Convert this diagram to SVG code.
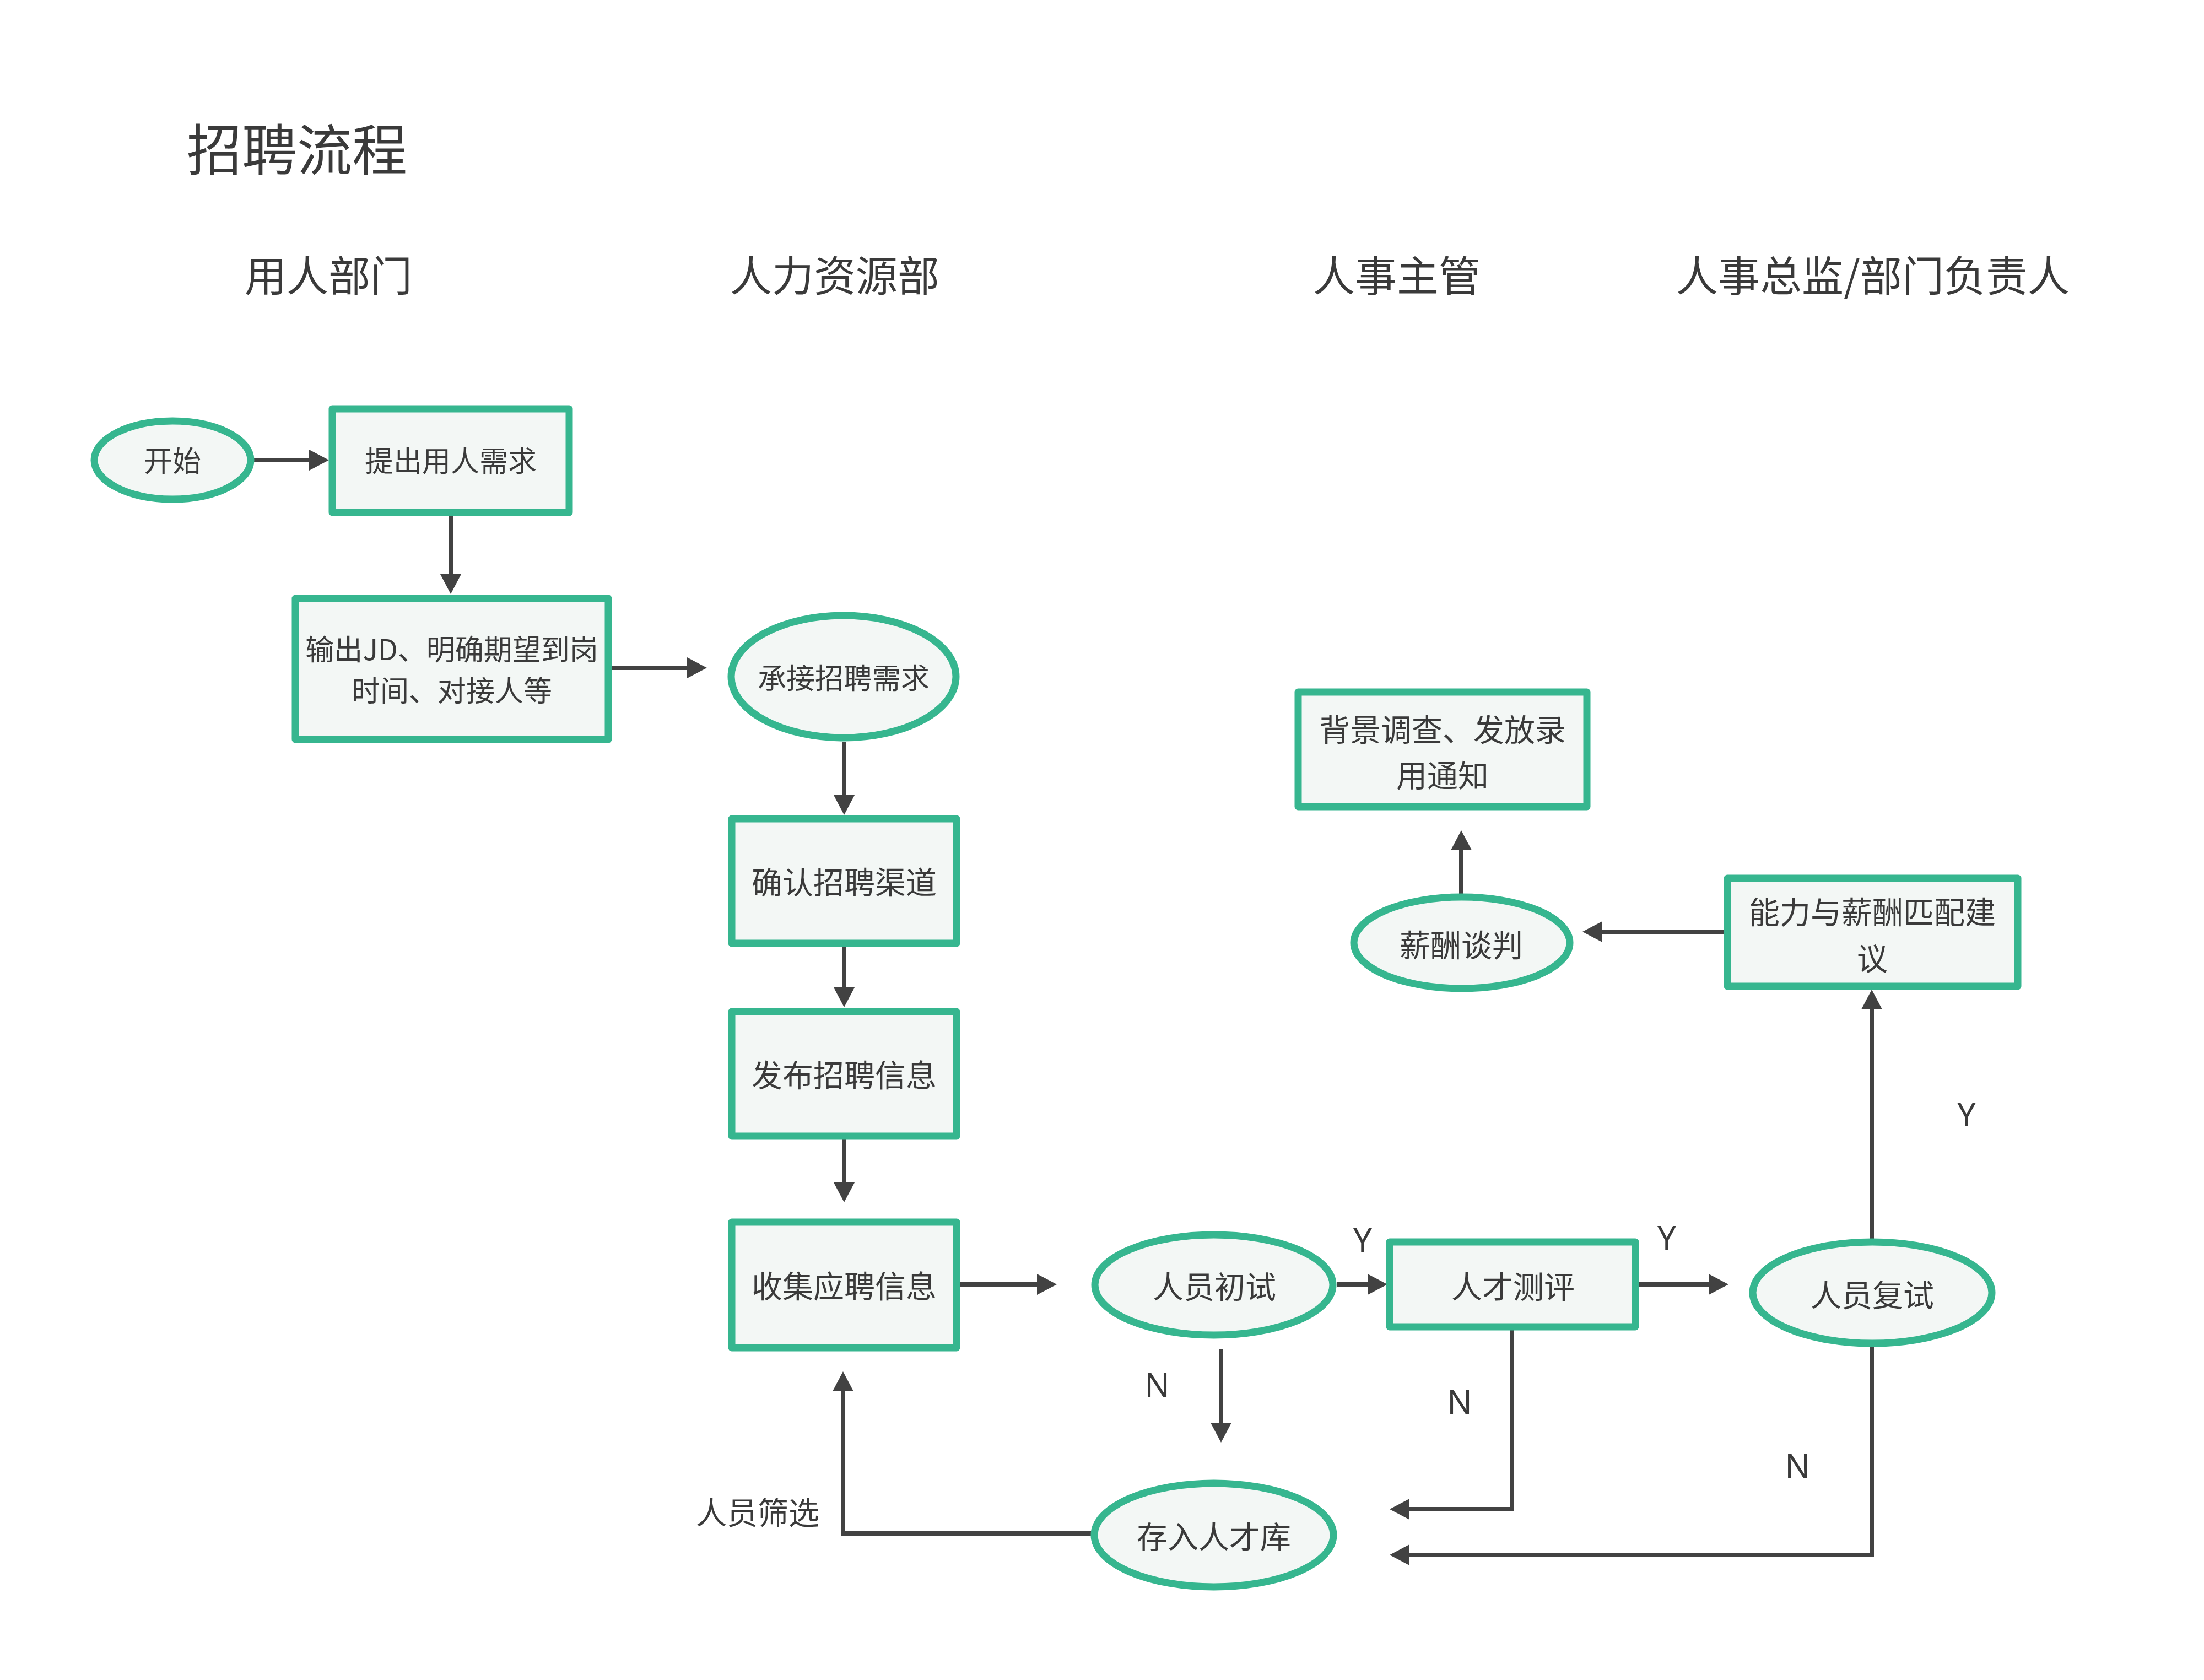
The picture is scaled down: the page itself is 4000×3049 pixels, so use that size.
<svg xmlns="http://www.w3.org/2000/svg" width="4000" height="3049" viewBox="0 0 4000 3049">
<defs>
<style>
.n{fill:#f3f7f5;stroke:#36b68f;stroke-width:13;stroke-linejoin:round}
.t{font-family:"Noto Sans CJK SC","Noto Sans",sans-serif;fill:#3a3a3a;text-anchor:middle}
.s52{font-size:52px}
.s56{font-size:56px}
.h{font-size:76px}
.lbl{font-family:"Noto Sans","Noto Sans CJK SC",sans-serif;font-size:60px;fill:#3a3a3a;text-anchor:middle}
.c{fill:none;stroke:#424242;stroke-width:8}
</style>
<marker id="arr" viewBox="0 0 36 38" markerWidth="36" markerHeight="38" refX="6" refY="19" orient="auto" markerUnits="userSpaceOnUse">
<path d="M0,0 L36,19 L0,38 Z" fill="#424242"/>
</marker>
</defs>
<rect width="4000" height="3049" fill="#ffffff"/>
<g id="titles">
<text class="t" x="339" y="309" style="font-size:100px;text-anchor:start">招聘流程</text>
<text class="t h" x="596" y="529">用人部门</text>
<text class="t h" x="1515" y="529">人力资源部</text>
<text class="t h" x="2535" y="529">人事主管</text>
<text class="t h" x="3399" y="529">人事总监/部门负责人</text>
</g>
<g id="connectors">
<path class="c" d="M461,835 H567" marker-end="url(#arr)"/>
<path class="c" d="M818,936 V1048" marker-end="url(#arr)"/>
<path class="c" d="M1109,1212 H1253" marker-end="url(#arr)"/>
<path class="c" d="M1532,1347 V1449" marker-end="url(#arr)"/>
<path class="c" d="M1532,1717 V1798" marker-end="url(#arr)"/>
<path class="c" d="M1532,2067 V2152" marker-end="url(#arr)"/>
<path class="c" d="M1743,2331 H1888" marker-end="url(#arr)"/>
<path class="c" d="M2427,2331 H2488" marker-end="url(#arr)"/>
<path class="c" d="M2974,2331 H3107" marker-end="url(#arr)"/>
<path class="c" d="M3397,2252 V1826" marker-end="url(#arr)"/>
<path class="c" d="M3129,1691 H2902" marker-end="url(#arr)"/>
<path class="c" d="M2652,1626 V1537" marker-end="url(#arr)"/>
<path class="c" d="M2216,2448 V2588" marker-end="url(#arr)"/>
<path class="c" d="M2744,2414 V2739 H2552" marker-end="url(#arr)"/>
<path class="c" d="M3397,2445 V2822 H2552" marker-end="url(#arr)"/>
<path class="c" d="M1980,2783 H1530 V2519" marker-end="url(#arr)"/>
<text class="lbl" x="2473" y="2272">Y</text>
<text class="lbl" x="3025" y="2268">Y</text>
<text class="lbl" x="3569" y="2044">Y</text>
<text class="lbl" x="2100" y="2535">N</text>
<text class="lbl" x="2649" y="2566">N</text>
<text class="lbl" x="3262" y="2682">N</text>
<text class="t s56" x="1375" y="2766">人员筛选</text>
</g>
<g id="start">
<ellipse class="n" cx="313" cy="835" rx="142" ry="71"/>
<text class="t s52" x="313" y="856">开始</text>
</g>
<g id="request">
<rect class="n" x="603" y="742" width="430" height="188"/>
<text class="t s52" x="818" y="856">提出用人需求</text>
</g>
<g id="jd">
<rect class="n" x="536" y="1086" width="568" height="256"/>
<text class="t s52" x="820" y="1198">输出JD、明确期望到岗</text>
<text class="t s52" x="820" y="1273">时间、对接人等</text>
</g>
<g id="accept">
<ellipse class="n" cx="1531" cy="1228" rx="204" ry="111"/>
<text class="t s52" x="1531" y="1250">承接招聘需求</text>
</g>
<g id="channel">
<rect class="n" x="1328" y="1486" width="408" height="226"/>
<text class="t s56" x="1532" y="1622">确认招聘渠道</text>
</g>
<g id="publish">
<rect class="n" x="1328" y="1836" width="408" height="226"/>
<text class="t s56" x="1532" y="1972">发布招聘信息</text>
</g>
<g id="collect">
<rect class="n" x="1328" y="2218" width="408" height="228"/>
<text class="t s56" x="1532" y="2355">收集应聘信息</text>
</g>
<g id="first">
<ellipse class="n" cx="2203" cy="2332" rx="216" ry="91"/>
<text class="t s56" x="2204" y="2356">人员初试</text>
</g>
<g id="assess">
<rect class="n" x="2522" y="2254" width="446" height="154"/>
<text class="t s56" x="2746" y="2356">人才测评</text>
</g>
<g id="second">
<ellipse class="n" cx="3398" cy="2346" rx="217" ry="92"/>
<text class="t s56" x="3398" y="2371">人员复试</text>
</g>
<g id="pool">
<ellipse class="n" cx="2203" cy="2786" rx="217" ry="94"/>
<text class="t s56" x="2203" y="2810">存入人才库</text>
</g>
<g id="match">
<rect class="n" x="3135" y="1594" width="527" height="196"/>
<text class="t s56" x="3398" y="1676">能力与薪酬匹配建</text>
<text class="t s56" x="3398" y="1760">议</text>
</g>
<g id="negotiate">
<ellipse class="n" cx="2653" cy="1711" rx="196" ry="83"/>
<text class="t s56" x="2652" y="1736">薪酬谈判</text>
</g>
<g id="offer">
<rect class="n" x="2356" y="1256" width="524" height="208"/>
<text class="t s56" x="2618" y="1345">背景调查、发放录</text>
<text class="t s56" x="2618" y="1428">用通知</text>
</g>
</svg>
